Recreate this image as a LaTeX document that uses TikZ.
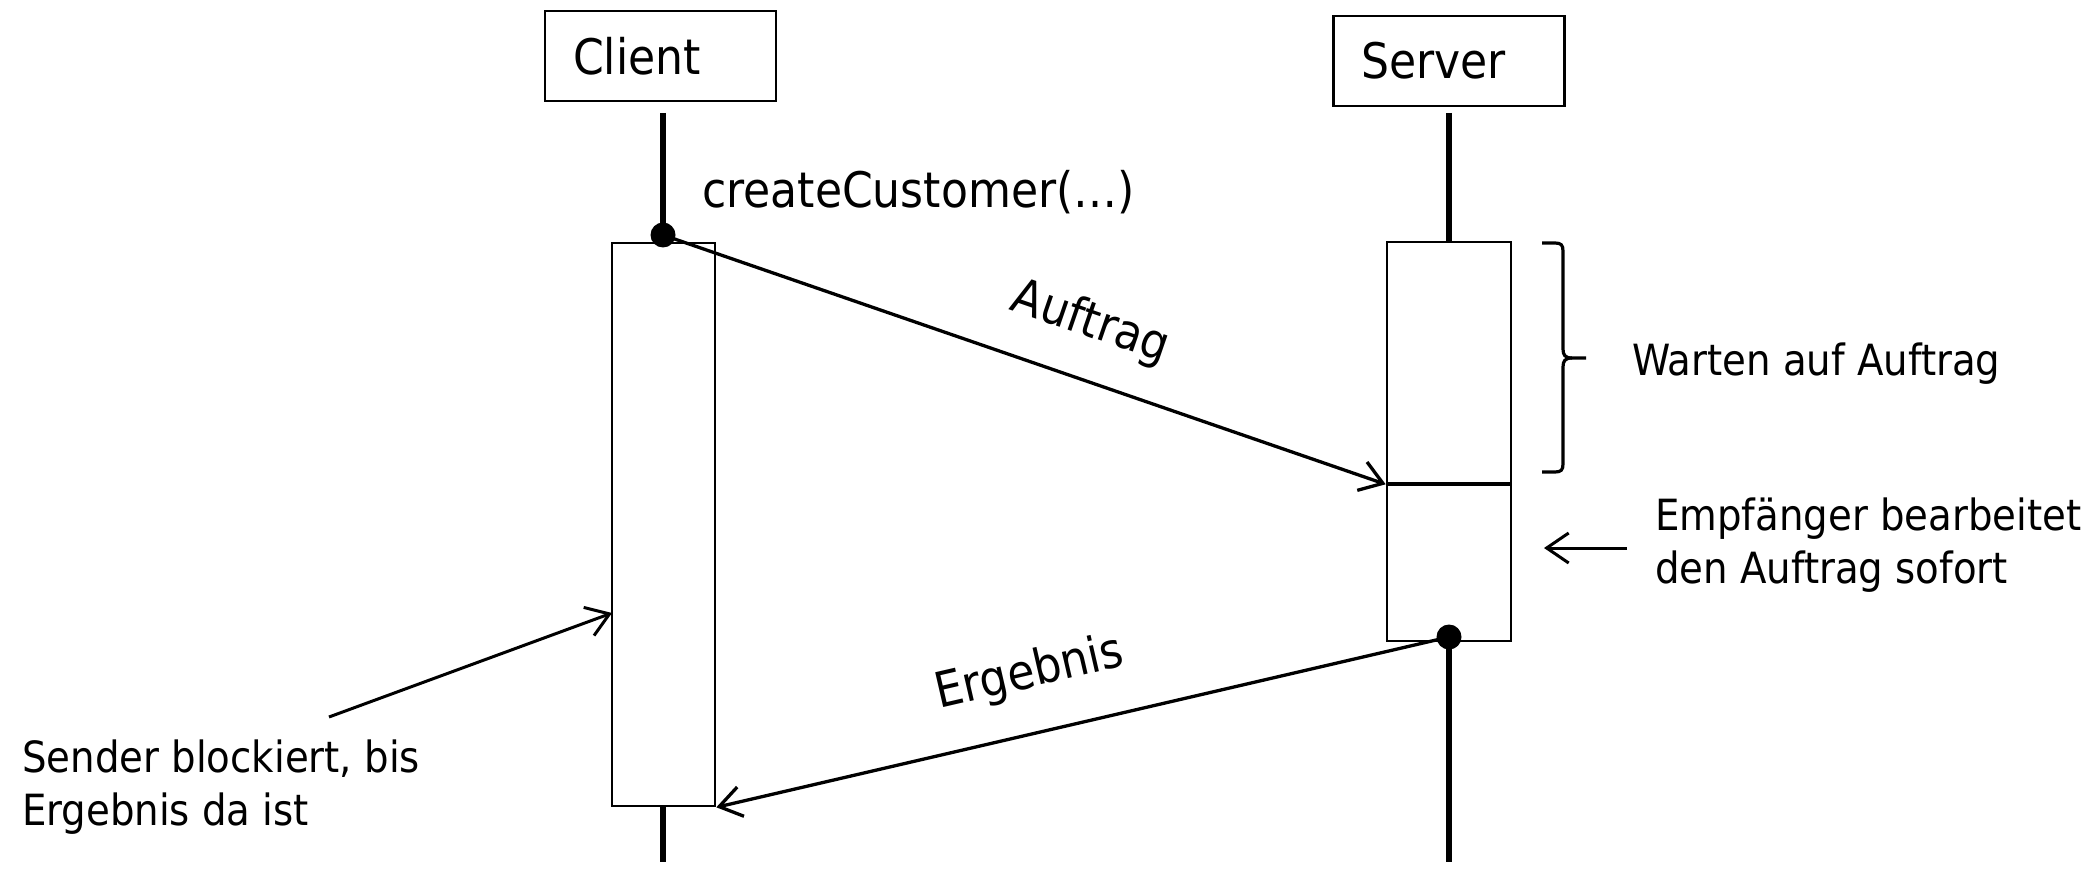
\documentclass[tikz,border=0pt]{standalone}
\usepackage{fontspec}
\setmainfont{DejaVu Sans Condensed}
\usetikzlibrary{arrows.meta}
\newcommand\lblfont{\fontsize{49}{59}\selectfont}
\newcommand\notefont{\fontsize{43}{52.5}\selectfont}
\begin{document}
\begin{tikzpicture}[x=1pt,y=-1pt,
  headbox/.style={draw, line width=2.6pt, minimum width=231pt, minimum height=90pt, inner xsep=28pt, inner ysep=0pt, text width=175pt, align=left, font=\lblfont},
  actbox/.style={draw, line width=2.6pt, inner sep=0pt},
  divider/.style={line width=3.6pt},
  life/.style={line width=5.5pt},
  msg/.style={line width=3.3pt, -{Straight Barb[length=22pt,width=30pt]}},
  pointer/.style={line width=3pt, -{Straight Barb[length=22pt,width=30pt]}},
  dot/.style={circle, fill=black, inner sep=0pt, minimum size=25pt},
  lbl/.style={font=\lblfont, inner sep=0pt},
  note/.style={font=\notefont, inner sep=0pt, align=left},
  bracepath/.style={line width=3.2pt}
]
\useasboundingbox[fill=white] (0,0) rectangle (2089,877);
% heads
\node[headbox] (client) at (660.5,56) {Client};
\node[headbox] (server) at (1449,61) {Server};
% activation boxes
\node[actbox, minimum width=103pt, minimum height=563pt] (cact) at (663.5,524.5) {};
\node[actbox, minimum width=124pt, minimum height=241pt] (swait) at (1449,362.5) {};
\node[actbox, minimum width=124pt, minimum height=158pt] (swork) at (1449,562) {};
\draw[divider] (swait.south west) -- (swait.south east);
% dots
\node[dot] (cdot) at (663,235) {};
\node[dot] (sdot) at (1449,637) {};
% lifelines
\coordinate (ctop) at (663,113);
\coordinate (cend) at (663,862);
\coordinate (stop) at (1449,113);
\coordinate (send) at (1449,862);
\draw[life] (ctop) -- (cdot.center);
\draw[life] (cend |- cact.south) -- (cend);
\draw[life] (stop) -- (swait.north);
\draw[life] (swork.south) -- (send);
% messages
\node[lbl, anchor=base west] (call) at (702,208) {createCustomer(…)};
\draw[msg] (cdot.center) -- (swait.south west);
\node[lbl, anchor=base, rotate=-19] (auftrag) at (1086,336) {Auftrag};
\draw[msg] (sdot.center) -- (cact.south east);
\node[lbl, anchor=base, rotate=13] (ergebnis) at (1033,687) {Ergebnis};
% brace
\coordinate (btop) at (1542,243);
\coordinate (btip) at (1586,358);
\coordinate (bbot) at (1542,472);
\draw[bracepath] (btop) -- (1555,243) .. controls (1561,243) and (1563,245) .. (1563,251) -- (1563,349) .. controls (1563,355) and (1565,358) .. (1572,358) -- (btip);
\draw[bracepath] (1572,358) .. controls (1565,358) and (1563,361) .. (1563,367) -- (1563,464) .. controls (1563,470) and (1561,472) .. (1555,472) -- (bbot);
% notes (base = baseline of the last line)
\node[note, anchor=base west] (warten) at (1632,375) {Warten auf Auftrag};
\node[note, anchor=base west] (empf) at (1655,583) {Empfänger bearbeitet\\den Auftrag sofort};
\node[note, anchor=base west] (sender) at (22,825) {Sender blockiert, bis\\Ergebnis da ist};
% pointers
\coordinate (eptail) at (1627,548);
\coordinate (eptip) at (1544,548);
\draw[pointer] (eptail) -- (eptip);
\coordinate (sbtail) at (329,717);
\coordinate (sbtip) at (612,613);
\draw[pointer] (sbtail) -- (sbtip);
\end{tikzpicture}
\end{document}
